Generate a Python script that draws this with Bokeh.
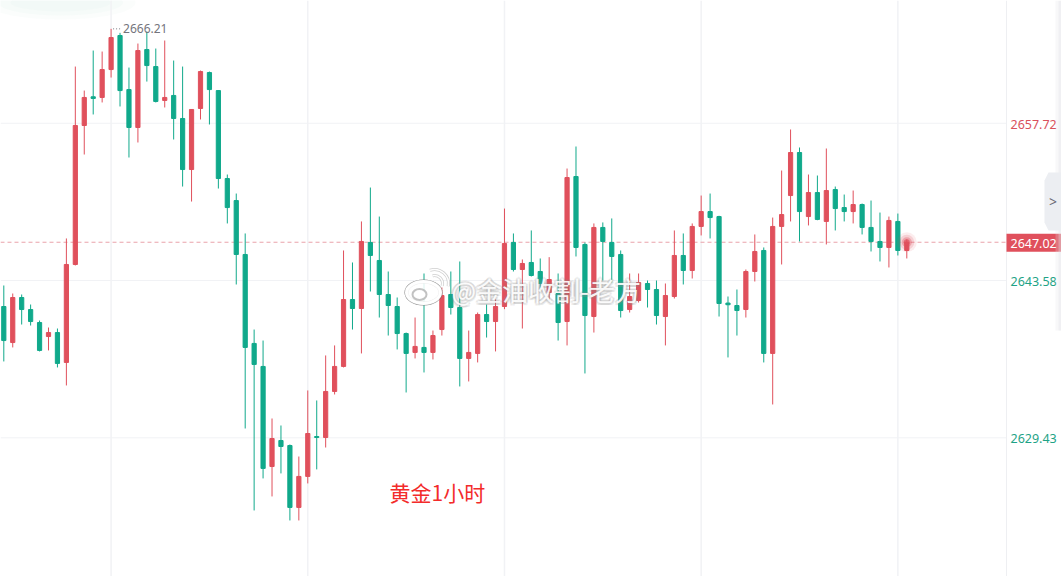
from bokeh.plotting import figure
from bokeh.models import ColumnDataSource, Range1d
from bokeh.core.properties import value
from bokeh.embed import file_html
from bokeh.resources import INLINE

# ---------------- data (gold, 1-hour candles) ----------------
opens = [2641.24, 2638.00, 2642.05, 2640.97, 2639.80, 2638.54, 2638.90, 2636.21, 2645.02, 2657.52,
         2660.10, 2660.04, 2662.55, 2665.61, 2660.75, 2657.34, 2664.35, 2662.82, 2659.77, 2660.22,
         2658.15, 2653.56, 2659.05, 2662.28, 2660.66, 2652.75, 2650.77, 2645.92, 2637.92, 2635.85,
         2626.85, 2629.19, 2628.74, 2623.17, 2625.96, 2629.55, 2629.46, 2633.60, 2635.85, 2641.87,
         2641.06, 2647.00, 2645.38, 2642.32, 2641.24, 2638.81, 2637.11, 2637.56, 2637.11, 2639.17,
         2642.32, 2641.15, 2636.57, 2637.02, 2640.52, 2639.89, 2641.24, 2647.00, 2644.57, 2645.20,
         2644.39, 2642.50, 2642.41, 2639.89, 2652.93, 2646.82, 2640.34, 2648.35, 2647.00, 2645.92,
         2640.97, 2641.78, 2643.31, 2642.77, 2640.34, 2642.14, 2645.83, 2644.48, 2648.44, 2649.78,
         2649.33, 2641.55, 2641.33, 2640.97, 2644.39, 2646.28, 2637.02, 2648.44, 2651.22, 2655.09,
         2649.33, 2651.49, 2648.89, 2651.76, 2650.14, 2649.78, 2650.41, 2648.35, 2647.09, 2646.55,
         2648.89, 2646.28]
highs = [2643.13, 2642.41, 2642.32, 2641.42, 2639.98, 2639.35, 2639.26, 2647.36, 2662.82, 2660.66,
         2664.26, 2664.17, 2666.21, 2665.85, 2662.73, 2664.89, 2665.97, 2664.44, 2665.16, 2663.36,
         2662.82, 2659.00, 2662.46, 2662.37, 2660.70, 2653.11, 2651.40, 2647.81, 2639.17, 2638.18,
         2631.17, 2630.54, 2628.83, 2627.75, 2633.69, 2632.79, 2636.84, 2637.74, 2646.28, 2645.20,
         2648.89, 2651.94, 2649.33, 2644.39, 2642.05, 2638.90, 2640.25, 2644.21, 2639.08, 2642.95,
         2644.39, 2645.29, 2639.08, 2640.70, 2641.42, 2641.87, 2650.05, 2647.81, 2645.47, 2648.08,
         2645.56, 2645.68, 2644.21, 2653.65, 2655.63, 2647.00, 2648.71, 2648.80, 2649.16, 2646.28,
         2644.21, 2644.21, 2643.58, 2643.58, 2643.31, 2648.08, 2647.81, 2648.71, 2651.22, 2651.40,
         2649.40, 2642.14, 2642.77, 2644.57, 2647.72, 2646.55, 2649.24, 2653.47, 2657.16, 2655.54,
         2653.11, 2653.02, 2655.45, 2652.03, 2651.31, 2651.67, 2650.50, 2650.77, 2649.69, 2649.33,
         2649.60, 2647.27]
lows = [2636.30, 2637.56, 2639.62, 2639.53, 2637.20, 2637.29, 2635.76, 2634.14, 2644.93, 2654.91,
        2658.51, 2659.59, 2661.83, 2659.23, 2654.64, 2655.99, 2661.47, 2659.59, 2659.14, 2656.26,
        2652.03, 2650.68, 2658.06, 2657.61, 2651.85, 2648.71, 2643.22, 2630.27, 2622.90, 2625.78,
        2624.16, 2626.23, 2622.00, 2622.00, 2625.33, 2626.59, 2628.56, 2633.33, 2635.76, 2639.17,
        2637.02, 2642.59, 2640.25, 2638.63, 2637.38, 2633.51, 2636.57, 2635.31, 2636.48, 2638.63,
        2640.52, 2634.05, 2634.50, 2636.21, 2638.45, 2637.20, 2641.00, 2644.39, 2639.26, 2643.94,
        2642.68, 2641.78, 2638.18, 2637.74, 2645.74, 2635.22, 2638.90, 2643.58, 2643.40, 2640.25,
        2640.70, 2641.60, 2641.15, 2639.62, 2637.74, 2641.96, 2643.22, 2643.76, 2647.63, 2647.36,
        2640.34, 2636.66, 2638.63, 2640.25, 2643.49, 2636.21, 2632.43, 2645.02, 2648.89, 2647.09,
        2648.53, 2649.00, 2646.82, 2648.08, 2648.89, 2648.71, 2647.72, 2646.19, 2645.29, 2644.75,
        2645.83, 2645.56]
closes = [2638.18, 2642.05, 2640.97, 2639.89, 2637.29, 2638.90, 2636.12, 2645.02, 2657.52, 2660.04,
          2659.95, 2662.55, 2665.43, 2660.66, 2657.34, 2664.26, 2662.91, 2659.68, 2660.04, 2658.15,
          2653.56, 2658.96, 2662.37, 2660.75, 2652.75, 2650.14, 2645.92, 2637.56, 2636.03, 2626.68,
          2629.37, 2628.65, 2623.17, 2625.96, 2629.82, 2629.46, 2633.60, 2635.85, 2641.87, 2641.06,
          2647.09, 2645.83, 2642.32, 2641.33, 2638.81, 2637.02, 2637.65, 2637.11, 2638.63, 2642.23,
          2641.15, 2636.57, 2637.11, 2640.52, 2639.89, 2641.24, 2646.91, 2644.57, 2645.11, 2644.03,
          2643.31, 2643.67, 2639.80, 2652.84, 2646.55, 2640.43, 2648.35, 2647.09, 2645.74, 2640.88,
          2642.14, 2643.40, 2642.77, 2640.43, 2642.23, 2645.83, 2644.48, 2648.44, 2649.78, 2649.24,
          2641.51, 2641.40, 2640.88, 2644.39, 2646.19, 2637.02, 2648.44, 2649.51, 2655.09, 2649.78,
          2651.49, 2649.07, 2651.67, 2650.05, 2649.78, 2650.41, 2648.35, 2647.09, 2646.55, 2648.98,
          2646.28, 2647.02]
day_breaks = [12, 34, 56, 78, 100]
price_ticks = [2657.72, 2643.58, 2629.43]
last_price = 2647.02
max_high = 2666.21
title_text = "黄金1小时"
watermark_text = "@金油收割-老方"

# ---------------- layout helpers ----------------
W, H = 1061, 576
BAR_PX = 8.9406
FIRST_PX = 3.3
AXIS_PX = 1006
Y_TOP, Y_BOT = 2668.76, 2616.96
PPX = (Y_TOP - Y_BOT) / H

UP = "#e0505c"
DOWN = "#10a98b"
LBL_UP = "#d9505c"
LBL_DOWN = "#1ea386"
GRID = "#f1f2f5"


def xd(px):
    return (px - FIRST_PX) / BAR_PX


def yd(py):
    return Y_TOP - py * PPX


p = figure(width=W, height=H, x_range=Range1d(xd(0), xd(W)), y_range=Range1d(Y_BOT, Y_TOP),
           output_backend="svg", toolbar_location=None, x_axis_location=None, y_axis_location=None,
           min_border=0, min_border_left=0, min_border_right=0, min_border_top=0, min_border_bottom=0,
           outline_line_color=None, background_fill_color="#ffffff", border_fill_color="#ffffff")
p.grid.visible = False

# very faint glow in top-left corner
for w_, h_, a_ in [(150, 34, 0.12), (125, 26, 0.14), (100, 18, 0.16)]:
    p.ellipse(x=[xd(60)], y=[yd(2)], width=[w_], height=[h_], width_units="screen", height_units="screen",
              fill_color="#dff0ea", fill_alpha=a_, line_color=None)

# grid
n_t = len(price_ticks)
p.segment(x0=[xd(0)] * n_t, y0=price_ticks, x1=[xd(AXIS_PX)] * n_t, y1=price_ticks,
          line_color=GRID, line_width=1)
p.segment(x0=day_breaks, y0=[Y_BOT] * len(day_breaks), x1=day_breaks, y1=[Y_TOP] * len(day_breaks),
          line_color=GRID, line_width=1.5)
# axis separator
p.segment(x0=[xd(AXIS_PX)], y0=[Y_BOT], x1=[xd(AXIS_PX)], y1=[Y_TOP], line_color="#eeeff2", line_width=1)

# current price dashed line
p.segment(x0=[xd(0)], y0=[last_price], x1=[xd(AXIS_PX)], y1=[last_price],
          line_color="#eaa2aa", line_width=1, line_dash="4 3")

# candles
idx = list(range(len(opens)))
colors = [UP if c >= o else DOWN for o, c in zip(opens, closes)]
src = ColumnDataSource(dict(
    x=idx, open=opens, high=highs, low=lows, close=closes,
    top=[max(o, c) for o, c in zip(opens, closes)],
    bottom=[min(o, c) for o, c in zip(opens, closes)],
    color=colors,
))
p.segment(x0="x", y0="low", x1="x", y1="high", line_color="color", line_width=1, source=src)
p.vbar(x="x", width=0.47, top="top", bottom="bottom", fill_color="color", line_color="color",
       line_width=1, source=src)

# glow on the last candle
last_i = idx[-1]
for sz, al in [(20, 0.10), (15, 0.18), (10, 0.35), (6, 0.7)]:
    p.scatter(x=[last_i], y=[last_price], size=sz, fill_color=UP, fill_alpha=al, line_color=None)

# max high marker
hi_i = highs.index(max_high)
p.segment(x0=[hi_i + xd(113) - xd(111)], y0=[max_high], x1=[hi_i + xd(121) - xd(111)], y1=[max_high],
          line_color="#7d7d85", line_width=1, line_dash="1 2")
p.text(x=[hi_i + xd(123) - xd(111)], y=[max_high], text=[f"{max_high:.2f}"], text_color="#74747c",
       text_font=value("Noto Sans"), text_font_size="12px", text_baseline="middle", text_align="left")

# right axis labels
tick_src = ColumnDataSource(dict(
    x=[xd(1010)] * n_t, y=price_ticks, text=[f"{v:.2f}" for v in price_ticks],
    color=[LBL_UP if v > last_price else LBL_DOWN for v in price_ticks],
))
p.text(x="x", y="y", text="text", text_color="color", source=tick_src, text_font=value("Noto Sans"),
       text_font_size="12.5px", text_baseline="middle", text_align="left", y_offset=1)

# current price box
p.quad(left=[xd(AXIS_PX)], right=[xd(W)], top=[last_price + 8.6 * PPX], bottom=[last_price - 9.4 * PPX],
       fill_color=UP, line_color=None)
p.text(x=[xd(1010)], y=[last_price], text=[f"{last_price:.2f}"], text_color="#ffffff",
       text_font=value("Noto Sans"), text_font_size="12.5px", text_baseline="middle", text_align="left", y_offset=1)

# right collapse tab and edge shade
p.quad(left=[xd(1055)], right=[xd(W)], top=[yd(0)], bottom=[yd(330)], fill_color="#e2e3e8", fill_alpha=0.25,
       line_color=None)
p.quad(left=[xd(1058)], right=[xd(W)], top=[yd(0)], bottom=[yd(330)], fill_color="#e2e3e8", fill_alpha=0.35,
       line_color=None)
p.patch(x=[xd(1048), xd(W), xd(W), xd(1048), xd(1044), xd(1044)],
        y=[yd(172), yd(172), yd(230), yd(230), yd(222), yd(180)],
        fill_color="#eceef2", line_color=None)
p.text(x=[xd(1052.5)], y=[yd(201)], text=[">"], text_color="#6a6b75", text_font=value("Noto Sans"),
       text_font_size="14px", text_baseline="middle", text_align="center")

# watermark (white text with soft grey halo)
wx, wy = xd(451), yd(289)
offs = [(-2, 0), (2, 0), (0, -2), (0, 2), (-1.5, -1.5), (1.5, 1.5), (-1.5, 1.5), (1.5, -1.5), (0, 0)]
for dx, dy in offs:
    p.text(x=[wx], y=[wy], text=[watermark_text], text_color="#8a8a8a", text_alpha=0.15,
           text_font=value("Noto Sans CJK SC"), text_font_size="26px", text_baseline="middle",
           text_align="left", x_offset=dx, y_offset=dy)
p.text(x=[wx], y=[wy], text=[watermark_text], text_color="#ffffff", text_alpha=0.93,
       text_font=value("Noto Sans CJK SC"), text_font_size="26px", text_baseline="middle",
       text_align="left")
# weibo-like logo
lx, ly = xd(423), yd(292)
for dx, dy in offs:
    p.ellipse(x=[lx], y=[ly], width=[34], height=[22], width_units="screen", height_units="screen",
              fill_color=None, line_color="#8a8a8a", line_alpha=0.14, line_width=4)
p.ellipse(x=[lx], y=[ly], width=[34], height=[22], width_units="screen", height_units="screen",
          fill_color="#ffffff", fill_alpha=0.85, line_color="#ffffff", line_width=3)
p.ellipse(x=[xd(419)], y=[yd(294)], width=[14], height=[11], width_units="screen", height_units="screen",
          fill_color="#ffffff", line_color="#9a9a9a", line_alpha=0.6, line_width=2)
p.arc(x=[xd(434)], y=[yd(283)], radius=[8], radius_units="screen", start_angle=-0.3, end_angle=1.8,
      line_color="#a0a0a0", line_alpha=0.5, line_width=3)
p.arc(x=[xd(434)], y=[yd(283)], radius=[14], radius_units="screen", start_angle=-0.2, end_angle=1.9,
      line_color="#a0a0a0", line_alpha=0.5, line_width=3)
p.arc(x=[xd(434)], y=[yd(283)], radius=[8], radius_units="screen", start_angle=-0.3, end_angle=1.8,
      line_color="#ffffff", line_width=1.5)
p.arc(x=[xd(434)], y=[yd(283)], radius=[14], radius_units="screen", start_angle=-0.2, end_angle=1.9,
      line_color="#ffffff", line_width=1.5)

# chart caption
p.text(x=[xd(389)], y=[yd(491)], text=[title_text], text_color="#f32b2b",
       text_font=value("Noto Sans CJK SC"), text_font_size="21px", text_baseline="middle", text_align="left")

open("out.html", "w").write(file_html(p, INLINE))
